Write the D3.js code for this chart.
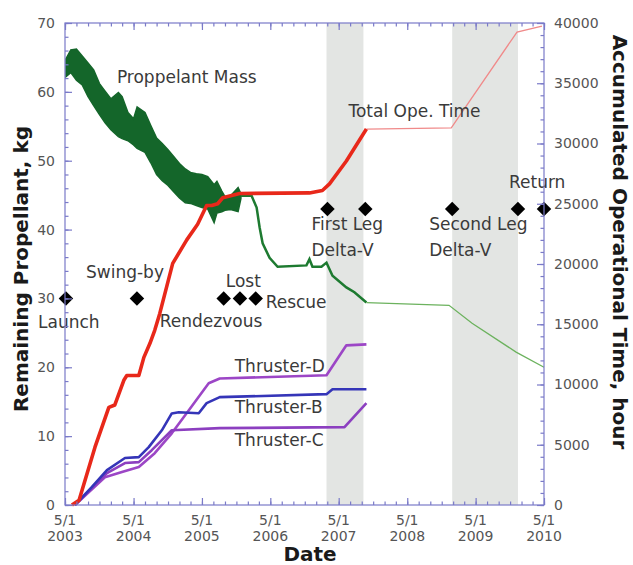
<!DOCTYPE html>
<html>
<head>
<meta charset="utf-8">
<script src="https://cdn.jsdelivr.net/npm/d3@7"></script>
<style>
  body { margin: 0; background: #fff; }
  text { font-family: "DejaVu Sans", sans-serif; }
</style>
</head>
<body>
<div id="chart"></div>
<script>
// axis ticks
const kgTicks = d3.range(0, 71, 10);
const hourTicks = d3.range(0, 40001, 5000);
const yearTicks = ["2003-05-01", "2004-05-01", "2005-05-01", "2006-05-01",
  "2007-05-01", "2008-05-01", "2009-05-01", "2010-05-01"];

// delta-V periods (grey bands)
const deltaVPeriods = [["2007-02-25", "2007-09-10"], ["2008-12-27", "2009-12-13"]];

// propellant mass, kg: monthly low / high while the band is noisy
const propellantBand = [
  ["2003-05-06", 62.2, 64.8], ["2003-06-01", 62.8, 66.1], ["2003-07-01", 61.7, 66.2],
  ["2003-08-01", 61.0, 65.2], ["2003-09-01", 59.3, 64.2], ["2003-10-01", 58.0, 63.2],
  ["2003-11-01", 56.7, 61.2], ["2003-12-01", 55.5, 60.1], ["2004-01-01", 54.5, 59.0],
  ["2004-02-10", 53.5, 59.9], ["2004-03-01", 53.2, 59.3], ["2004-04-01", 52.9, 57.0],
  ["2004-05-01", 52.3, 56.1], ["2004-05-20", 51.8, 57.8], ["2004-07-01", 51.2, 57.0],
  ["2004-08-01", 49.7, 55.1], ["2004-09-01", 48.0, 53.3], ["2004-10-01", 47.1, 52.5],
  ["2004-11-01", 46.4, 51.6], ["2004-12-01", 45.5, 50.6], ["2005-01-01", 44.6, 49.6],
  ["2005-02-01", 43.9, 48.8], ["2005-03-01", 43.8, 48.3], ["2005-04-01", 43.5, 48.1],
  ["2005-05-01", 43.2, 48.0], ["2005-06-01", 43.0, 47.7], ["2005-07-05", 41.0, 46.5],
  ["2005-07-20", 42.4, 47.0], ["2005-08-15", 42.6, 45.6], ["2005-09-01", 42.8, 44.8],
  ["2005-10-01", 42.9, 44.9], ["2005-11-10", 42.6, 46.1], ["2005-11-25", 44.5, 45.2]
];
// propellant mass, kg: after the rescue
const propellantLine = [
  ["2005-11-25", 44.9], ["2006-01-21", 44.9], ["2006-02-17", 43.2], ["2006-03-05", 40.3],
  ["2006-03-21", 38.0], ["2006-04-27", 35.9], ["2006-06-09", 34.6], ["2006-11-10", 34.8],
  ["2006-11-26", 35.7], ["2006-12-12", 34.6], ["2007-01-29", 34.6], ["2007-02-25", 35.2],
  ["2007-03-29", 33.3], ["2007-06-11", 31.6], ["2007-07-24", 30.9], ["2007-09-26", 29.4]
];
const propellantPlan = [
  ["2007-09-26", 29.4], ["2008-12-10", 29.0], ["2009-04-12", 26.4],
  ["2009-12-03", 22.2], ["2010-05-01", 20.0]
];

// accumulated operational time, hour
const totalTime = [
  ["2003-06-07", 0], ["2003-07-15", 400], ["2003-10-08", 4800], ["2003-12-21", 8100],
  ["2004-01-22", 8300], ["2004-03-10", 10350], ["2004-03-26", 10750], ["2004-05-29", 10750],
  ["2004-06-25", 12250], ["2004-07-27", 13400], ["2004-08-22", 14500], ["2004-09-18", 15900],
  ["2004-11-26", 20050], ["2005-02-09", 22000], ["2005-04-08", 23300], ["2005-05-26", 24850],
  ["2005-06-22", 24850], ["2005-07-24", 25000], ["2005-08-20", 25500], ["2005-11-18", 25850],
  ["2006-11-26", 25900], ["2007-02-03", 26100], ["2007-03-13", 26650], ["2007-06-11", 28550],
  ["2007-09-26", 31200]
];
const totalTimePlan = [
  ["2007-09-26", 31200], ["2008-12-22", 31300], ["2009-12-08", 39250], ["2010-04-20", 39750]
];
const thrusterB = [
  ["2003-06-23", 0], ["2003-09-22", 1500], ["2003-12-11", 2900], ["2004-03-16", 3900],
  ["2004-05-29", 3970], ["2004-07-21", 4800], ["2004-09-29", 6200], ["2004-11-21", 7600],
  ["2004-12-28", 7700], ["2005-04-14", 7620], ["2005-05-26", 8450], ["2005-08-04", 8950],
  ["2007-02-25", 9200], ["2007-03-29", 9600], ["2007-09-26", 9600]
];
const thrusterC = [
  ["2003-06-23", 0], ["2003-09-22", 1400], ["2003-12-11", 2650], ["2004-03-16", 3480],
  ["2004-05-29", 3560], ["2004-08-06", 4550], ["2004-11-21", 6200], ["2005-08-04", 6380],
  ["2007-06-01", 6460], ["2007-09-26", 8450]
];
const thrusterD = [
  ["2003-06-23", 0], ["2003-11-30", 2300], ["2004-02-29", 2730], ["2004-05-29", 3150],
  ["2004-08-22", 4300], ["2004-11-21", 5950], ["2005-02-20", 7870], ["2005-06-06", 10100],
  ["2005-08-04", 10500], ["2007-02-25", 10770], ["2007-06-11", 13250], ["2007-09-26", 13330]
];

// mission events (diamonds), kg axis
const events = [
  ["2003-05-06", 30], ["2004-05-19", 30], ["2005-08-25", 30], ["2005-11-20", 30],
  ["2006-02-12", 30], ["2007-03-02", 43], ["2007-09-20", 43], ["2008-12-27", 43],
  ["2009-12-13", 43], ["2010-05-01", 43]
];

// annotation texts, placed in data coordinates (date, kg)
const labels = [
  ["Proppelant Mass", "2004-02-02", 61.3], ["Total Ope. Time", "2007-06-22", 56.4],
  ["Launch", "2002-12-08", 25.7], ["Swing-by", "2003-08-21", 33.0],
  ["Rendezvous", "2004-09-18", 25.9], ["Lost", "2005-09-05", 31.7],
  ["Rescue", "2006-04-06", 28.6], ["First Leg", "2006-12-07", 39.9],
  ["Delta-V", "2006-12-07", 36.1], ["Second Leg", "2008-08-26", 39.9],
  ["Delta-V", "2008-08-26", 36.1], ["Return", "2009-10-26", 46.1],
  ["Thruster-D", "2005-10-23", 19.3], ["Thruster-B", "2005-10-23", 13.3],
  ["Thruster-C", "2005-10-23", 8.6]
];

const width = 633, height = 565;
const margin = { left: 65, right: 89, top: 23, bottom: 60 };
const parse = d3.timeParse("%Y-%m-%d");
const axisColor = "#7a7ac8";

const svg = d3.select("#chart").append("svg")
  .attr("width", width).attr("height", height);

const x = d3.scaleTime()
  .domain([parse("2003-05-01"), parse("2010-05-01")])
  .range([margin.left, width - margin.right]);
const yKg = d3.scaleLinear().domain([0, 70]).range([height - margin.bottom, margin.top]);
const yHr = d3.scaleLinear().domain([0, 40000]).range([height - margin.bottom, margin.top]);

const x0 = margin.left, x1 = width - margin.right;
const yTop = margin.top, yBot = height - margin.bottom;

// grey delta-V bands
svg.append("g").selectAll("rect")
  .data(deltaVPeriods)
  .join("rect")
  .attr("x", d => x(parse(d[0])))
  .attr("width", d => x(parse(d[1])) - x(parse(d[0])))
  .attr("y", yTop)
  .attr("height", yBot - yTop)
  .attr("fill", "#e3e5e3");

// propellant band + lines
svg.append("path")
  .datum(propellantBand)
  .attr("d", d3.area()
    .x(d => x(parse(d[0])))
    .y0(d => yKg(d[1]))
    .y1(d => yKg(d[2])))
  .attr("fill", "#14662a")
  .attr("stroke", "#14662a")
  .attr("stroke-width", 1.5);

const kgLine = d3.line().x(d => x(parse(d[0]))).y(d => yKg(d[1]));
const hrLine = d3.line().x(d => x(parse(d[0]))).y(d => yHr(d[1]));

svg.append("path").datum(propellantLine)
  .attr("d", kgLine).attr("fill", "none")
  .attr("stroke", "#1d7a30").attr("stroke-width", 2.5);
svg.append("path").datum(propellantPlan)
  .attr("d", kgLine).attr("fill", "none")
  .attr("stroke", "#6cb25e").attr("stroke-width", 1.3);

// thrusters
const thrusters = [
  { data: thrusterD, color: "#9c46c6" },
  { data: thrusterC, color: "#8c3fc0" },
  { data: thrusterB, color: "#3535b8" }
];
thrusters.forEach(t => {
  svg.append("path").datum(t.data)
    .attr("d", hrLine).attr("fill", "none")
    .attr("stroke", t.color).attr("stroke-width", 2.6)
    .attr("stroke-linejoin", "round");
});

// total operation time
svg.append("path").datum(totalTimePlan)
  .attr("d", hrLine).attr("fill", "none")
  .attr("stroke", "#f08a8a").attr("stroke-width", 1.3);
svg.append("path").datum(totalTime)
  .attr("d", hrLine).attr("fill", "none")
  .attr("stroke", "#e8281a").attr("stroke-width", 3.6)
  .attr("stroke-linejoin", "round");

// event diamonds
svg.append("g").selectAll("path")
  .data(events)
  .join("path")
  .attr("d", d3.symbol(d3.symbolSquare, 105))
  .attr("transform", d => `translate(${x(parse(d[0]))},${yKg(d[1])}) rotate(45)`)
  .attr("fill", "#000");

// annotation text
svg.append("g").selectAll("text")
  .data(labels)
  .join("text")
  .attr("x", d => x(parse(d[1])))
  .attr("y", d => yKg(d[2]))
  .attr("font-size", 17)
  .attr("fill", "#3a3a3a")
  .text(d => d[0]);

// frame
svg.append("rect")
  .attr("x", x0).attr("y", yTop)
  .attr("width", x1 - x0).attr("height", yBot - yTop)
  .attr("fill", "none").attr("stroke", axisColor).attr("stroke-width", 1.2);

// ticks, all pointing inward
function styleAxis(g) {
  g.select(".domain").remove();
  g.selectAll("line").attr("stroke", axisColor).attr("stroke-width", 1.2);
}
const majorDates = yearTicks.map(parse);
const minorDates = d3.timeMonth.every(2).range(parse("2003-05-01"), parse("2010-05-02"));

[[d3.axisBottom, yBot], [d3.axisTop, yTop]].forEach(([ax, yPos]) => {
  svg.append("g").attr("transform", `translate(0,${yPos})`)
    .call(ax(x).tickValues(minorDates).tickSize(-3.5).tickFormat(""))
    .call(styleAxis);
  svg.append("g").attr("transform", `translate(0,${yPos})`)
    .call(ax(x).tickValues(majorDates).tickSize(-7).tickFormat(""))
    .call(styleAxis);
});

svg.append("g").attr("transform", `translate(${x0},0)`)
  .call(d3.axisLeft(yKg).tickValues(d3.range(0, 71, 2)).tickSize(-3.5).tickFormat(""))
  .call(styleAxis);
svg.append("g").attr("transform", `translate(${x0},0)`)
  .call(d3.axisLeft(yKg).tickValues(kgTicks).tickSize(-7).tickPadding(10))
  .call(styleAxis);
svg.append("g").attr("transform", `translate(${x1},0)`)
  .call(d3.axisRight(yHr).tickValues(d3.range(0, 40001, 1000)).tickSize(-3.5).tickFormat(""))
  .call(styleAxis);
svg.append("g").attr("transform", `translate(${x1},0)`)
  .call(d3.axisRight(yHr).tickValues(hourTicks).tickSize(-7).tickPadding(10).tickFormat(d3.format("d")))
  .call(styleAxis);

svg.selectAll(".tick text")
  .attr("font-family", "DejaVu Sans, sans-serif")
  .attr("font-size", 14)
  .attr("fill", "#555");

// two-line date labels
const dateLabels = svg.append("g").selectAll("text")
  .data(majorDates)
  .join("text")
  .attr("x", d => x(d))
  .attr("y", yBot + 20)
  .attr("text-anchor", "middle")
  .attr("font-size", 14)
  .attr("fill", "#555");
dateLabels.append("tspan").text(d => d3.timeFormat("%-m/%-d")(d));
dateLabels.append("tspan").attr("x", d => x(d)).attr("dy", 16).text(d => d3.timeFormat("%Y")(d));

// axis titles
svg.append("text")
  .attr("transform", `translate(28,${(yTop + yBot) / 2 + 5}) rotate(-90)`)
  .attr("text-anchor", "middle")
  .attr("font-size", 20).attr("font-weight", "bold").attr("fill", "#1a1a1a")
  .text("Remaining Propellant, kg");
svg.append("text")
  .attr("transform", `translate(613,${(yTop + yBot) / 2 - 22}) rotate(90)`)
  .attr("text-anchor", "middle")
  .attr("font-size", 20).attr("font-weight", "bold").attr("fill", "#1a1a1a")
  .text("Accumulated Operational Time, hour");
svg.append("text")
  .attr("x", 310).attr("y", 561)
  .attr("text-anchor", "middle")
  .attr("font-size", 20).attr("font-weight", "bold").attr("fill", "#1a1a1a")
  .text("Date");
</script>
</body>
</html>
